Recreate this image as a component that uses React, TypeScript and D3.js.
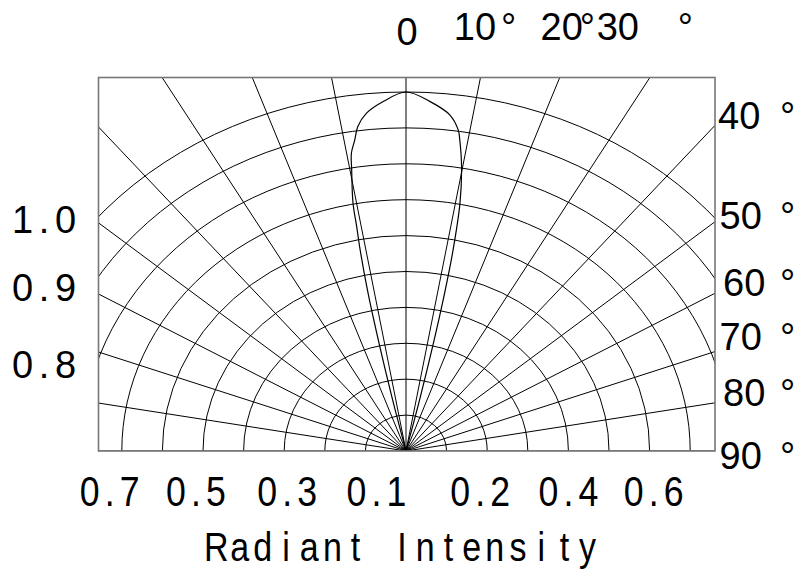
import React from "react";
import * as d3 from "d3";

// ---------------- data ----------------
const gridLevels = [0.1, 0.2, 0.3, 0.4, 0.5, 0.6, 0.7, 0.8, 0.9, 1.0];
const gridAngles = [-90, -80, -70, -60, -50, -40, -30, -20, -10, 0, 10, 20, 30, 40, 50, 60, 70, 80, 90];
const patternAngles = [-13.5, -13, -12.5, -12, -11.4, -11.0, -10.7, -9.7, -9.2, -8.3, -7.5, -5.9, -3.3, 0, 3.5, 6.6, 8.2, 8.7, 9.8, 10.9, 11.7, 12.2, 12.7, 13.2, 13.5];
const patternIntensity = [0, 0.15, 0.3, 0.45, 0.571, 0.636, 0.703, 0.794, 0.841, 0.875, 0.911, 0.946, 0.975, 1.0, 0.975, 0.942, 0.903, 0.876, 0.804, 0.703, 0.572, 0.45, 0.3, 0.15, 0];
const topAngleLabels = ["0", "10", "20", "30"];
const topAngleValues = [0, 10, 20, 30];
const rightAngleLabels = ["40", "50", "60", "70", "80", "90"];
const rightAngleValues = [40, 50, 60, 70, 80, 90];
const leftIntensityLabels = ["1.0", "0.9", "0.8"];
const leftIntensityValues = [1.0, 0.9, 0.8];
const bottomIntensityLabels = ["0.7", "0.5", "0.3", "0.1", "0.2", "0.4", "0.6"];
const bottomIntensityValues = [-0.7, -0.5, -0.3, -0.1, 0.2, 0.4, 0.6];
const axisTitle = "Radiant Intensity";

// ---------------- layout ----------------
const W = 798;
const H = 572;
const CX = 406;
const CY = 451;
const RX = 406;
const RY = 359;
const X0 = 98.5;
const X1 = 715;
const Y0 = 77.5;
const Y1 = 451;
const FONT = "'Liberation Sans', Arial, Helvetica, sans-serif";
const FS = 38;
const SQX = 0.85; // horizontal squeeze for the narrow bottom texts

const topNudge = [1, -5.5, 2, -32];
const topDegOffset = [null, 28, 20, 62];
const topBase = [44.5, 40, 40, 40];
const rightNudge = [-10, -6, -11, -15, -10, 4];
const rightX = [720, 721.5, 725, 721.5, 725, 721.5];
const leftNudge = [2.5, 11, 6];
const bottomNudge = [-12, -7, 3, 11, -7, 0, 4];

const rad = (a: number) => (a * Math.PI) / 180;

export default function App() {
  const xScale = d3.scaleLinear().domain([-1, 1]).range([CX - RX, CX + RX]);
  const yScale = d3.scaleLinear().domain([0, 1]).range([CY, CY - RY]);

  const pts: [number, number][] = patternAngles.map((a, i) => [
    xScale(patternIntensity[i] * Math.sin(rad(a))),
    yScale(patternIntensity[i] * Math.cos(rad(a))),
  ]);
  const patternPath = d3.line().curve(d3.curveCatmullRom.alpha(0.5))(pts) || "";

  const edgeYForAngle = (a: number, xEdge: number) => {
    const s = Math.sin(rad(a));
    const t = (xEdge - CX) / (xScale(s) - CX);
    return CY - t * (CY - yScale(Math.cos(rad(a))));
  };
  const topXForAngle = (a: number) => {
    const c = Math.cos(rad(a));
    const t = (CY - Y0) / (CY - yScale(c));
    return CX + t * (xScale(Math.sin(rad(a))) - CX);
  };
  const leftYForLevel = (l: number) => {
    const u = (CX - X0) / (CX - xScale(-1));
    const v = Math.sqrt(Math.max(0, l * l - u * u));
    return yScale(v);
  };

  const charXs = (center: number, text: string, pitch: number, k = 1) =>
    text
      .split("")
      .map((_, i) => ((center + (i - (text.length - 1) / 2) * pitch) / k).toFixed(2))
      .join(" ");

  return (
    <svg
      width={W}
      height={H}
      viewBox={`0 0 ${W} ${H}`}
      style={{ position: "absolute", left: 0, top: 0, background: "#fff" }}
    >
      <defs>
        <clipPath id="frameClip">
          <rect x={X0} y={Y0} width={X1 - X0} height={Y1 - Y0} />
        </clipPath>
      </defs>
      <rect x={0} y={0} width={W} height={H} fill="#fff" />
      <g clipPath="url(#frameClip)" fill="none" stroke="#000" strokeWidth={1}>
        {gridLevels.map((l) => (
          <ellipse
            key={"e" + l}
            cx={CX}
            cy={CY}
            rx={xScale(l) - xScale(0)}
            ry={yScale(0) - yScale(l)}
          />
        ))}
        {gridAngles.map((a) => (
          <line
            key={"r" + a}
            x1={xScale(0)}
            y1={yScale(0)}
            x2={xScale(2 * Math.sin(rad(a)))}
            y2={yScale(2 * Math.cos(rad(a)))}
          />
        ))}
        <path d={patternPath} strokeWidth={1.2} />
      </g>
      <rect
        x={X0}
        y={Y0}
        width={X1 - X0}
        height={Y1 - Y0}
        fill="none"
        stroke="#777"
        strokeWidth={1.6}
      />

      <g fontFamily={FONT} fontSize={FS} fill="#000">
        {topAngleLabels.map((t, i) => {
          const cx = topXForAngle(topAngleValues[i]) + topNudge[i];
          const off = topDegOffset[i];
          return (
            <text key={"t" + t} y={topBase[i]}>
              <tspan x={cx} textAnchor="middle">{t}</tspan>
              {off !== null ? <tspan x={cx + (off as number) - 2}>°</tspan> : null}
            </text>
          );
        })}
        {rightAngleLabels.map((t, i) => {
          const cy = edgeYForAngle(rightAngleValues[i], X1) + rightNudge[i];
          return (
            <text key={"ra" + t} y={cy + 13.5}>
              <tspan x={rightX[i] - 2}>{t}</tspan>
              <tspan x={780}>°</tspan>
            </text>
          );
        })}
        {leftIntensityLabels.map((t, i) => {
          const cy = leftYForLevel(leftIntensityValues[i]) + leftNudge[i];
          return (
            <text key={"l" + t} x={charXs(44, t, 21.5)} y={cy + 13.5} textAnchor="middle">
              {t}
            </text>
          );
        })}
      </g>
      <g fontFamily={FONT} fill="#000" transform={`scale(${SQX},1)`}>
        {bottomIntensityLabels.map((t, i) => (
          <text
            key={"b" + t}
            x={charXs(xScale(bottomIntensityValues[i]) + bottomNudge[i], t, 20, SQX)}
            y={506}
            fontSize={42}
            textAnchor="middle"
          >
            {t}
          </text>
        ))}
        <text
          fontSize={40}
          x={charXs(402, axisTitle, 23.2, SQX)}
          y={561}
          textAnchor="middle"
        >
          {axisTitle}
        </text>
      </g>
    </svg>
  );
}
